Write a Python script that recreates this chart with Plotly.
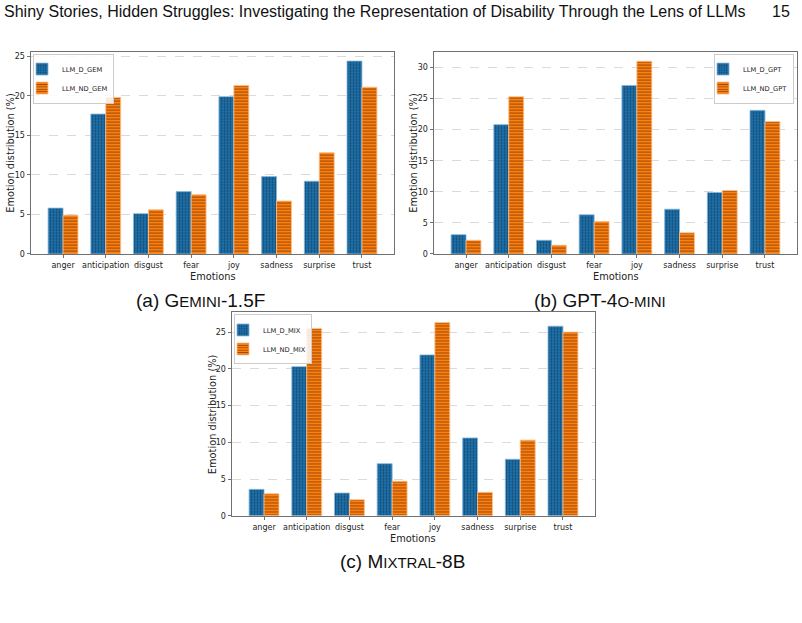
import plotly.graph_objects as go

W, H = 802, 623

emotions = ["anger", "anticipation", "disgust", "fear", "joy", "sadness", "surprise", "trust"]

gem_d = [5.8, 17.7, 5.1, 7.9, 19.9, 9.8, 9.2, 24.4]
gem_nd = [4.9, 19.8, 5.6, 7.5, 21.3, 6.7, 12.8, 21.1]

gpt_d = [3.1, 20.8, 2.2, 6.3, 27.1, 7.2, 9.9, 23.1]
gpt_nd = [2.2, 25.3, 1.4, 5.2, 31.0, 3.4, 10.2, 21.3]

mix_d = [3.6, 20.3, 3.1, 7.1, 21.9, 10.6, 7.7, 25.8]
mix_nd = [3.0, 25.5, 2.2, 4.7, 26.3, 3.2, 10.3, 25.0]

panels = [
    ("GEM", gem_d, gem_nd),
    ("GPT", gpt_d, gpt_nd),
    ("MIX", mix_d, mix_nd),
]

BLUE = "#1f77b4"
ORANGE = "#ff7f0e"


def px(x):
    return x / W


def py(y):
    return 1 - y / H


# pixel boxes (left, top, right, bottom) for the three axes
boxes = [(31, 52, 394, 256), (434, 52, 797, 256), (232, 315, 595, 520)]
ymaxes = [25.6, 32.55, 27.67]
legend_pos = [(33, 54, "left"), (794, 54, "right"), (234, 317, "left")]

fig = go.Figure()
layout = {}
annotations = []

for i, ((tag, d, nd), box, ymax, lp) in enumerate(zip(panels, boxes, ymaxes, legend_pos)):
    sfx = "" if i == 0 else str(i + 1)
    xa, ya = "x" + sfx, "y" + sfx
    leg = "legend" + sfx
    fig.add_trace(go.Bar(
        x=emotions, y=d, name=f"LLM_D_{tag}", xaxis=xa, yaxis=ya, legend=leg,
        marker=dict(color=BLUE, line=dict(color="#86b9de", width=0.8),
                    pattern=dict(shape=".", size=3, solidity=0.45,
                                 fgcolor="#0b2236", bgcolor=BLUE)),
        offsetgroup="d",
    ))
    fig.add_trace(go.Bar(
        x=emotions, y=nd, name=f"LLM_ND_{tag}", xaxis=xa, yaxis=ya, legend=leg,
        marker=dict(color=ORANGE, line=dict(color="#ffc28c", width=0.8),
                    pattern=dict(shape="-", size=3, solidity=0.35,
                                 fgcolor="#2a1505", bgcolor=ORANGE)),
        offsetgroup="nd",
    ))
    l, t, r, b = box
    layout["xaxis" + sfx] = dict(
        domain=[px(l), px(r)], anchor=ya, range=[-0.75, 7.75],
        type="category", showline=True, linecolor="#707070", linewidth=1, mirror=True,
        ticks="outside", ticklen=3.5, tickcolor="#707070", tickwidth=0.8,
        tickfont=dict(family="DejaVu Sans", size=8, color="#222"),
        ticklabelstandoff=0,
        showgrid=False, zeroline=False, fixedrange=True,
    )
    layout["yaxis" + sfx] = dict(
        domain=[py(b), py(t)], anchor=xa, range=[0, ymax], dtick=5,
        showline=True, linecolor="#707070", linewidth=1, mirror=True,
        ticks="outside", ticklen=3.5, tickcolor="#707070", tickwidth=0.8,
        tickfont=dict(family="DejaVu Sans", size=8, color="#222"),
        showgrid=True, gridcolor="#dadada", gridwidth=0.6, griddash="dash",
        zeroline=False, fixedrange=True,
    )
    lx, ly, anc = lp
    layout[leg] = dict(
        x=px(lx), y=py(ly), xanchor=anc, yanchor="top", xref="paper", yref="paper",
        bgcolor="rgba(255,255,255,0.85)", bordercolor="#cccccc", borderwidth=1,
        font=dict(family="DejaVu Sans", size=6.7, color="#222"),
        itemwidth=30, tracegroupgap=0, indentation=-12,
    )
    cx = (l + r) / 2
    annotations.append(dict(
        text="Emotions", x=px(cx), y=py(b + 23), xref="paper", yref="paper",
        showarrow=False, xanchor="center", yanchor="middle",
        font=dict(family="DejaVu Sans", size=9.8, color="#222"),
    ))
    annotations.append(dict(
        text="Emotion distribution (%)", x=px(l - 20), y=py((t + b) / 2),
        xref="paper", yref="paper", showarrow=False, textangle=-90,
        xanchor="center", yanchor="middle",
        font=dict(family="DejaVu Sans", size=9.8, color="#222"),
    ))

sc = 'style="font-size:15px"'
captions = [
    (f'(a) G<span {sc}>EMINI</span>-1.5F', 200, 303),
    (f'(b) GPT-4<span {sc}>O-MINI</span>', 600, 303),
    (f'(c) M<span {sc}>IXTRAL</span>-8B', 403, 566),
]
for txt, cx, cy in captions:
    annotations.append(dict(
        text=txt, x=px(cx), y=py(cy), xref="paper", yref="paper", showarrow=False,
        xanchor="center", yanchor="middle",
        font=dict(family="Liberation Sans", size=19, color="#111"),
    ))

annotations.append(dict(
    text="Shiny Stories, Hidden Struggles: Investigating the Representation of Disability Through the Lens of LLMs",
    x=px(2), y=py(12), xref="paper", yref="paper", showarrow=False,
    xanchor="left", yanchor="middle",
    font=dict(family="Liberation Sans", size=16, color="#111"),
))
annotations.append(dict(
    text="15", x=px(792), y=py(12), xref="paper", yref="paper", showarrow=False,
    xanchor="right", yanchor="middle",
    font=dict(family="Liberation Sans", size=16, color="#111"),
))

fig.update_layout(
    width=W, height=H, margin=dict(l=0, r=0, t=0, b=0),
    paper_bgcolor="white", plot_bgcolor="white",
    barmode="group", bargap=0.3, bargroupgap=0,
    annotations=annotations, showlegend=True,
    **layout,
)

fig.write_html("out.html", config={"displayModeBar": False})
